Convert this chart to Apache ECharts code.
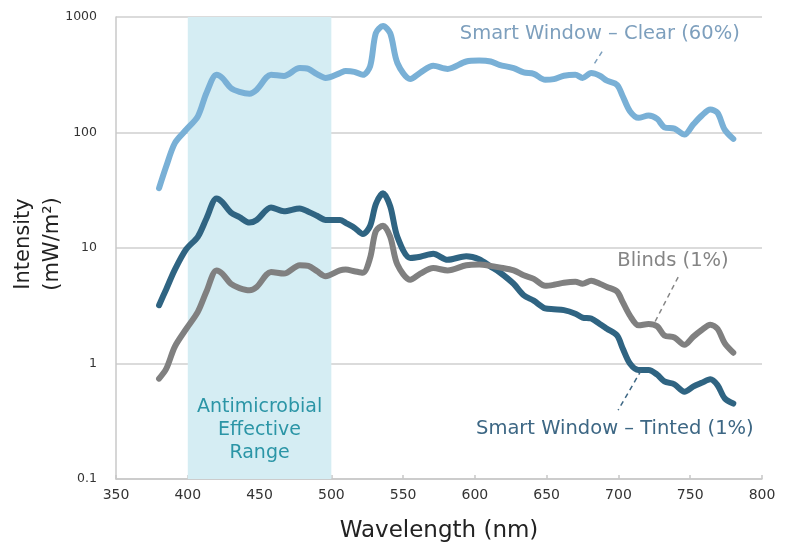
<!DOCTYPE html>
<html>
<head>
<meta charset="utf-8">
<script src="https://cdn.jsdelivr.net/npm/echarts@6/dist/echarts.min.js"></script>
<style>
html,body{margin:0;padding:0;background:#fff;}
#chart{width:793px;height:548px;}
</style>
</head>
<body>
<div id="chart"></div>
<script>
// Wavelengths (nm) shared by all series
var wavelengths = [380,385,391,399,407,413,420,424,430,436,443,448,458,467,478,484,490,496,506,510,516,522,527,531,536,541,546,555,562,571,581,594,603,611,617,627,634,641,649,655,662,670,675,681,687,692,699,703,708,714,721,727,732,739,746,752,758,764,769,774,780];

var clearValues = [33,51,81,106,138,220,316,297,243,225,217,235,316,309,361,355,320,297,327,340,335,316,373,724,836,724,400,290,330,378,355,412,420,412,385,361,331,322,286,290,310,316,297,327,310,281,259,206,153,134,140,131,111,108,96,117,140,158,148,106,88];

var tintedValues = [3.2,4.4,6.5,9.8,12.5,18,26.8,25,20.3,18.5,16.6,17.5,22.4,20.8,22,20.6,19,17.5,17.5,16.5,15,13.2,15.5,24,29.8,23,12.5,8.2,8.4,8.9,7.9,8.5,8.0,6.9,6.2,4.9,3.9,3.5,3.0,2.95,2.9,2.7,2.5,2.45,2.2,2.0,1.75,1.35,1.0,0.88,0.88,0.8,0.7,0.66,0.57,0.63,0.68,0.73,0.65,0.5,0.45];

var blindsValues = [0.74,0.9,1.4,2.0,2.8,4.2,6.4,6.0,4.9,4.5,4.3,4.6,6.2,6.0,7.1,7.0,6.3,5.7,6.4,6.5,6.3,6.1,8.2,14,15.6,12.5,7.2,5.3,6.0,6.7,6.4,7.1,7.2,7.0,6.8,6.4,5.8,5.4,4.7,4.8,5.0,5.1,4.9,5.2,4.9,4.6,4.2,3.4,2.6,2.14,2.2,2.1,1.75,1.68,1.45,1.7,1.95,2.17,2.0,1.5,1.24];

var xTicks = [350,400,450,500,550,600,650,700,750,800];
var yTicks = [0.1,1,10,100,1000];
var bandRange = [400,500];
var bandLabel = 'Antimicrobial\nEffective\nRange';

var labelClear = {text:'Smart Window – Clear (60%)', at:[687,713], leader:[[688.6,502],[682,373]]};
var labelBlinds = {text:'Blinds (1%)', at:[738,7.7], leader:[[741.6,5.6],[725.4,2.29]]};
var labelTinted = {text:'Smart Window – Tinted (1%)', at:[697.5,0.27], leader:[[715.9,0.875],[699.8,0.395]]};

var FONT = 'DejaVu Sans';

function pairs(xs, ys){ return xs.map(function(x,i){ return [x, ys[i]]; }); }

function annot(lbl, color){
  return {
    markLine: {
      silent: true, symbol: 'none', animation: false,
      label: {show:false},
      lineStyle: {type:[5,4], width:1.5, color: color},
      data: [[{coord: lbl.leader[0]}, {coord: lbl.leader[1]}]]
    },
    markPoint: {
      silent: true, animation: false,
      symbol: 'circle', symbolSize: 1,
      itemStyle: {color: 'rgba(0,0,0,0)'},
      label: {show: true, position: 'inside', formatter: lbl.text, color: color,
              fontFamily: FONT, fontSize: 19.5},
      data: [{coord: lbl.at}]
    }
  };
}

var chart = echarts.init(document.getElementById('chart'), null, {renderer:'canvas'});

var cA = annot(labelClear, '#7d9fbd');
var bA = annot(labelBlinds, '#858585');
var tA = annot(labelTinted, '#3d6784');

var option = {
  animation: false,
  backgroundColor: '#fff',
  textStyle: {fontFamily: FONT},
  grid: {left:116, right:31, top:17, bottom:66, containLabel:false},
  xAxis: {
    type: 'value', min: xTicks[0], max: xTicks[xTicks.length-1], interval: 50,
    axisLine: {show:true, lineStyle:{color:'#c8c8c8', width:1.5}},
    axisTick: {show:true, inside:true, length:4, lineStyle:{color:'#c8c8c8', width:1.5}},
    axisLabel: {color:'#333', fontSize:14, margin:9, fontFamily: FONT},
    splitLine: {show:false},
    name: 'Wavelength (nm)', nameLocation:'middle', nameGap: 41,
    nameTextStyle: {color:'#222', fontSize:23, fontFamily: FONT}
  },
  yAxis: {
    type: 'log', logBase: 10, min: yTicks[0], max: yTicks[yTicks.length-1],
    axisLine: {show:true, lineStyle:{color:'#c8c8c8', width:1.5}},
    axisTick: {show:false},
    axisLabel: {color:'#333', fontSize:12.5, margin:19, fontFamily: FONT,
      formatter: function(v){ return String(+v.toPrecision(6)); }},
    splitLine: {show:true, lineStyle:{color:'#cfcfcf', width:1.5}},
    minorTick:{show:false}
  },
  graphic: [{
    type:'text', x: 38, y: 244, rotation: Math.PI/2,
    style: {text:'Intensity\n(mW/m²)', fill:'#222', font:'21px "'+FONT+'"', align:'center', verticalAlign:'middle', lineHeight: 29}
  }],
  series: [
    {
      name:'band', type:'line', data: [], silent:true,
      markArea: {
        silent:true,
        itemStyle: {color:'#d5edf3'},
        label: {show:true, position:'insideBottom', distance:14, formatter: bandLabel,
                color:'#2b95a6', fontSize:19, lineHeight:23, fontFamily: FONT},
        data: [[{xAxis: bandRange[0]}, {xAxis: bandRange[1]}]]
      }
    },
    Object.assign({
      name:'Smart Window – Tinted (1%)', type:'line', data: pairs(wavelengths, tintedValues),
      smooth: 0.3, symbol:'none',
      lineStyle:{color:'#2f6482', width:6, cap:'round', join:'round'}, z:3
    }, tA),
    Object.assign({
      name:'Blinds (1%)', type:'line', data: pairs(wavelengths, blindsValues),
      smooth: 0.3, symbol:'none',
      lineStyle:{color:'#808080', width:6, cap:'round', join:'round'}, z:3
    }, bA),
    Object.assign({
      name:'Smart Window – Clear (60%)', type:'line', data: pairs(wavelengths, clearValues),
      smooth: 0.3, symbol:'none',
      lineStyle:{color:'#79b0d6', width:6, cap:'round', join:'round'}, z:3
    }, cA)
  ]
};
chart.setOption(option);
</script>
</body>
</html>
